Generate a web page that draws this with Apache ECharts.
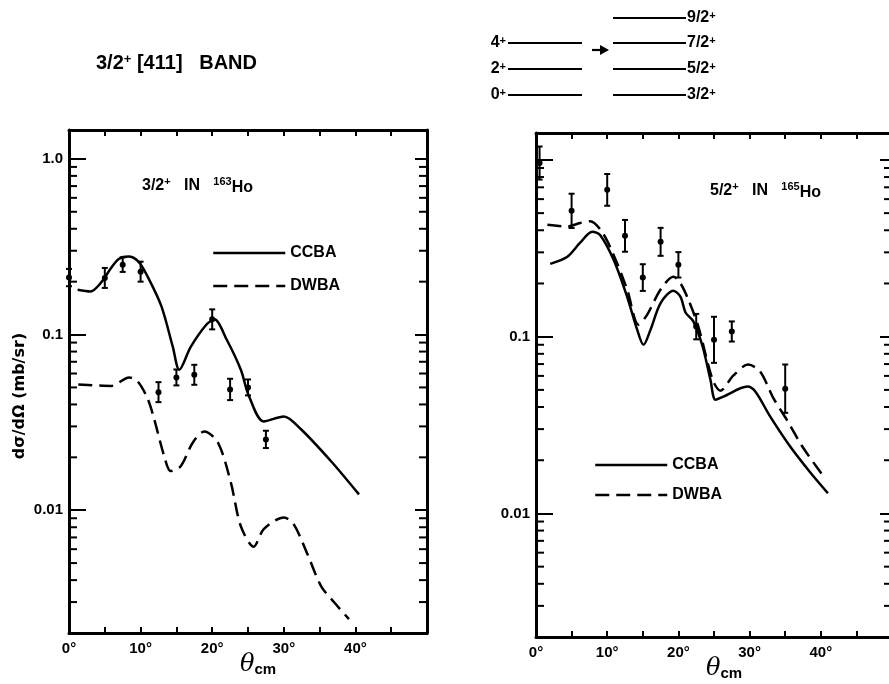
<!DOCTYPE html>
<html>
<head>
<meta charset="utf-8">
<script src="https://cdn.jsdelivr.net/npm/echarts@6/dist/echarts.min.js"></script>
<style>
  html, body { margin: 0; background: #fff; }
  #chart { width: 889px; height: 684px; }
</style>
</head>
<body>
<div id="chart"></div>
<script>
// measured cross sections, 3/2+ in 163Ho (left panel)
const leftTheta = [0, 5, 7.5, 10, 12.5, 15, 17.5, 20, 22.5, 25, 27.5]
const leftSigma = [0.211, 0.21, 0.25, 0.228, 0.047, 0.057, 0.059, 0.122, 0.0487, 0.05, 0.0253]
const leftErr = [0.12, 0.14, 0.10, 0.14, 0.14, 0.11, 0.14, 0.14, 0.15, 0.11, 0.12]

// measured cross sections, 5/2+ in 165Ho (right panel)
const rightTheta = [0.5, 5, 10, 12.5, 15, 17.5, 20, 22.5, 25, 27.5, 35]
const rightSigma = [0.96, 0.515, 0.677, 0.372, 0.216, 0.344, 0.255, 0.114, 0.096, 0.107, 0.0508]
const rightErr = [0.24, 0.25, 0.23, 0.23, 0.19, 0.20, 0.18, 0.18, 0.35, 0.14, 0.37]

// calculated curves [theta, dsigma/dOmega]
const leftCcba = [[1.2, 0.18], [3, 0.176], [4.5, 0.198], [5.9, 0.24], [7, 0.27], [8.3, 0.278], [9.7, 0.26],
  [11, 0.213], [12.9, 0.145], [14.5, 0.085], [15.4, 0.063], [17, 0.085], [19.2, 0.114], [20.3, 0.122],
  [22, 0.094], [24, 0.063], [25.1, 0.045], [27.2, 0.032], [30, 0.0342], [32.4, 0.0289], [36.6, 0.019], [40.5, 0.0123]]
const leftDwba = [[1.3, 0.052], [5.9, 0.051], [8.4, 0.057], [9.6, 0.054], [11, 0.043], [11.9, 0.033], [13.3, 0.0203],
  [14.2, 0.0167], [15.6, 0.0178], [17.3, 0.0243], [18.9, 0.0281], [20.8, 0.0243], [22.6, 0.0144], [24, 0.0081],
  [25.8, 0.0062], [27.2, 0.0078], [30, 0.0091], [31.4, 0.0083], [33.4, 0.0055], [35.2, 0.0037], [37, 0.003], [39.1, 0.0024]]
const rightCcba = [[2, 0.258], [4.4, 0.283], [6.2, 0.34], [7.9, 0.392], [9, 0.376], [10.9, 0.272], [12.8, 0.168],
  [14.2, 0.11], [15.1, 0.09], [16.1, 0.11], [17.5, 0.155], [19.3, 0.182], [20.3, 0.168], [21, 0.137], [22.1, 0.122],
  [23.4, 0.088], [24.5, 0.0571], [25.2, 0.044], [26.3, 0.0458], [29.7, 0.0522], [30.8, 0.0489], [32.9, 0.0353],
  [35.7, 0.0239], [38.5, 0.0171], [41, 0.013]]
const rightDwba = [[1.6, 0.43], [4.4, 0.42], [6.2, 0.44], [7.6, 0.45], [9.3, 0.39], [10.9, 0.29], [12.8, 0.185],
  [14.4, 0.117], [15.6, 0.133], [17.5, 0.185], [19.3, 0.218], [20.3, 0.2], [21.4, 0.162], [22.8, 0.114],
  [24.8, 0.0571], [25.9, 0.0495], [27.7, 0.0602], [29.8, 0.0695], [31.5, 0.0634], [33.3, 0.0452], [35.3, 0.0335],
  [37.5, 0.0236], [40.2, 0.0166]]

// tick labels
const xTickLabels = ['0°', '10°', '20°', '30°', '40°']
const leftDecadeLabels = ['0.01', '0.1', '1.0']
const rightDecadeLabels = ['0.01', '0.1', '']
const minorTicks = [0.003, 0.004, 0.005, 0.006, 0.007, 0.008, 0.009,
  0.02, 0.03, 0.04, 0.05, 0.06, 0.07, 0.08, 0.09,
  0.2, 0.3, 0.4, 0.5, 0.6, 0.7, 0.8, 0.9]

// level scheme
const evenLevels = ['0', '2', '4']
const oddLevels = ['3/2', '5/2', '7/2', '9/2']

const font = "'Liberation Sans', Arial, sans-serif"
const black = '#000'
const bold = { fontFamily: font, fontWeight: 'bold', color: black }

function xAxes (gridIndex) {
  const common = {
    gridIndex,
    type: 'value',
    min: 0,
    max: 50,
    interval: 10,
    axisLine: { onZero: false, lineStyle: { color: black, width: 3 } },
    axisTick: { inside: true, length: 6, lineStyle: { color: black, width: 2 } },
    minorTick: { show: true, splitNumber: 2, length: 6, lineStyle: { color: black, width: 2 } },
    splitLine: { show: false }
  }
  return [{
    ...common,
    position: 'bottom',
    axisLabel: { ...bold, fontSize: 15, margin: 8, formatter: v => xTickLabels[v / 10] || '' },
    name: '{t|θ}{c|cm}',
    nameLocation: 'middle',
    nameGap: 20,
    nameMoveOverlap: false,
    nameTextStyle: {
      padding: [0, 0, 0, 20],
      rich: {
        t: { fontFamily: "'DejaVu Serif', serif", fontStyle: 'italic', fontSize: 24, color: black },
        c: { ...bold, fontSize: 15, verticalAlign: 'bottom', padding: [7, 0, 0, 0] }
      }
    }
  }, {
    ...common,
    position: 'top',
    axisLabel: { show: false }
  }]
}

function yAxes (gridIndex, max, labels) {
  const common = {
    gridIndex,
    type: 'log',
    logBase: 10,
    min: 0.002,
    max,
    splitLine: { show: false },
    minorTick: { show: false }
  }
  return [{
    ...common,
    position: 'left',
    axisLine: { onZero: false, lineStyle: { color: black, width: 3 } },
    axisTick: { inside: true, length: 17, lineStyle: { color: black, width: 2 } },
    axisLabel: {
      ...bold,
      fontSize: 15,
      margin: 6,
      showMinLabel: false,
      showMaxLabel: false,
      formatter: v => {
        const l = Math.log10(v)
        const r = Math.round(l)
        return Math.abs(l - r) < 1e-6 ? (labels[r + 2] || '') : ''
      }
    }
  }, {
    ...common,
    position: 'right',
    axisLine: { onZero: false, lineStyle: { color: black, width: 3 } },
    axisTick: { inside: true, length: 12, lineStyle: { color: black, width: 2 } },
    axisLabel: { show: false }
  }]
}

function errorBar (params, api) {
  const x = api.value(0)
  const y = api.value(1)
  const e = api.value(2)
  const p = api.coord([x, y])
  const hi = api.coord([x, y * (1 + e)])[1]
  const lo = api.coord([x, y / (1 + e)])[1]
  const st = { stroke: black, lineWidth: 2 }
  return {
    type: 'group',
    children: [
      { type: 'line', shape: { x1: p[0], y1: hi, x2: p[0], y2: lo }, style: st },
      { type: 'line', shape: { x1: p[0] - 3, y1: hi, x2: p[0] + 3, y2: hi }, style: st },
      { type: 'line', shape: { x1: p[0] - 3, y1: lo, x2: p[0] + 3, y2: lo }, style: st },
      { type: 'circle', shape: { cx: p[0], cy: p[1], r: 3 }, style: { fill: black } }
    ]
  }
}

function logMinorTick (params, api) {
  const cs = params.coordSys
  const y = api.coord([0, api.value(1)])[1]
  const st = { stroke: black, lineWidth: 2 }
  return {
    type: 'group',
    children: [
      { type: 'line', shape: { x1: cs.x, y1: y, x2: cs.x + 8, y2: y }, style: st },
      { type: 'line', shape: { x1: cs.x + cs.width - 8, y1: y, x2: cs.x + cs.width, y2: y }, style: st }
    ]
  }
}

function panelSeries (axisIndex, ccba, dwba, theta, sigma, err) {
  const base = { xAxisIndex: axisIndex, yAxisIndex: axisIndex, animation: false, silent: true }
  return [{
    ...base,
    name: 'CCBA',
    type: 'line',
    smooth: 0.3,
    symbol: 'none',
    data: ccba,
    lineStyle: { color: black, width: 2.5, type: 'solid' },
    itemStyle: { color: black }
  }, {
    ...base,
    name: 'DWBA',
    type: 'line',
    smooth: 0.3,
    symbol: 'none',
    data: dwba,
    lineStyle: { color: black, width: 2.5, type: [14, 7] },
    itemStyle: { color: black }
  }, {
    ...base,
    name: 'data',
    type: 'custom',
    renderItem: errorBar,
    encode: { x: 0, y: 1 },
    clip: false,
    data: theta.map((t, i) => [t, sigma[i], err[i]])
  }, {
    ...base,
    name: 'minor',
    type: 'custom',
    renderItem: logMinorTick,
    encode: { x: 0, y: 1 },
    data: minorTicks.map(v => [0, v])
  }]
}

function levelGraphics () {
  const st = { stroke: black, lineWidth: 2.2 }
  const rowY = [95, 69, 43, 18]
  const supRich = {
    a: { ...bold, fill: black, fontSize: 16 },
    s: { ...bold, fill: black, fontSize: 11, verticalAlign: 'top' }
  }
  const out = []
  evenLevels.forEach((lv, i) => {
    out.push({ type: 'line', shape: { x1: 508, y1: rowY[i], x2: 582, y2: rowY[i] }, style: st })
    out.push({ type: 'text', x: 506, y: rowY[i], style: { text: '{a|' + lv + '}{s|+}', rich: supRich, align: 'right', verticalAlign: 'middle' } })
  })
  oddLevels.forEach((lv, i) => {
    out.push({ type: 'line', shape: { x1: 613, y1: rowY[i], x2: 686, y2: rowY[i] }, style: st })
    out.push({ type: 'text', x: 687, y: rowY[i], style: { text: '{a|' + lv + '}{s|+}', rich: supRich, align: 'left', verticalAlign: 'middle' } })
  })
  out.push({ type: 'line', shape: { x1: 592, y1: 50, x2: 602, y2: 50 }, style: st })
  out.push({ type: 'polygon', shape: { points: [[600, 45], [609, 50], [600, 55]] }, style: { fill: black } })
  return out
}

const textRich = {
  a: { fontFamily: font, fontWeight: 'bold', fill: black, fontSize: 16 },
  s: { fontFamily: font, fontWeight: 'bold', fill: black, fontSize: 11, verticalAlign: 'top' },
  h: { fontFamily: font, fontWeight: 'bold', fill: black, fontSize: 16, padding: [4, 0, 0, 0] }
}

const legendCommon = {
  data: ['CCBA', 'DWBA'],
  orient: 'vertical',
  padding: 0,
  itemWidth: 72,
  itemHeight: 14,
  selectedMode: false,
  lineStyle: { width: 2.5 },
  itemStyle: { color: 'rgba(0,0,0,0)', borderWidth: 0, opacity: 0 },
  textStyle: { ...bold, fontSize: 16 }
}

const chart = echarts.init(document.getElementById('chart'), null, { renderer: 'canvas' })
chart.setOption({
  backgroundColor: '#fff',
  animation: false,
  grid: [
    { left: 69, width: 358, top: 130, height: 503, outerBoundsMode: 'none', containLabel: false },
    { left: 536, width: 356, top: 133, height: 504, outerBoundsMode: 'none', containLabel: false }
  ],
  xAxis: [...xAxes(0), ...xAxes(1)],
  yAxis: [...yAxes(0, 1.46, leftDecadeLabels), ...yAxes(1, 1.42, rightDecadeLabels)],
  legend: [
    { ...legendCommon, left: 212, top: 245, itemGap: 17 },
    { ...legendCommon, left: 594, top: 457, itemGap: 14 }
  ],
  graphic: [
    {
      type: 'text', x: 96, y: 63,
      style: {
        text: '{a|3/2}{s|+}{a| [411]   BAND}',
        verticalAlign: 'middle',
        rich: {
          a: { fontFamily: font, fontWeight: 'bold', fill: black, fontSize: 20 },
          s: { fontFamily: font, fontWeight: 'bold', fill: black, fontSize: 13, verticalAlign: 'top' }
        }
      }
    },
    {
      type: 'text', x: 142, y: 186,
      style: { text: '{a|3/2}{s|+}{a|   IN   }{s|163}{h|Ho}', rich: textRich, verticalAlign: 'middle' }
    },
    {
      type: 'text', x: 710, y: 191,
      style: { text: '{a|5/2}{s|+}{a|   IN   }{s|165}{h|Ho}', rich: textRich, verticalAlign: 'middle' }
    },
    {
      type: 'text', x: 20, y: 396, rotation: Math.PI / 2,
      style: { text: 'dσ/dΩ (mb/sr)', fontFamily: "'DejaVu Sans', sans-serif", fontWeight: 'bold', fontSize: 16, fill: black, align: 'center', verticalAlign: 'middle' }
    },
    ...levelGraphics()
  ],
  series: [
    ...panelSeries(0, leftCcba, leftDwba, leftTheta, leftSigma, leftErr),
    ...panelSeries(2, rightCcba, rightDwba, rightTheta, rightSigma, rightErr)
  ]
})
</script>
</body>
</html>
